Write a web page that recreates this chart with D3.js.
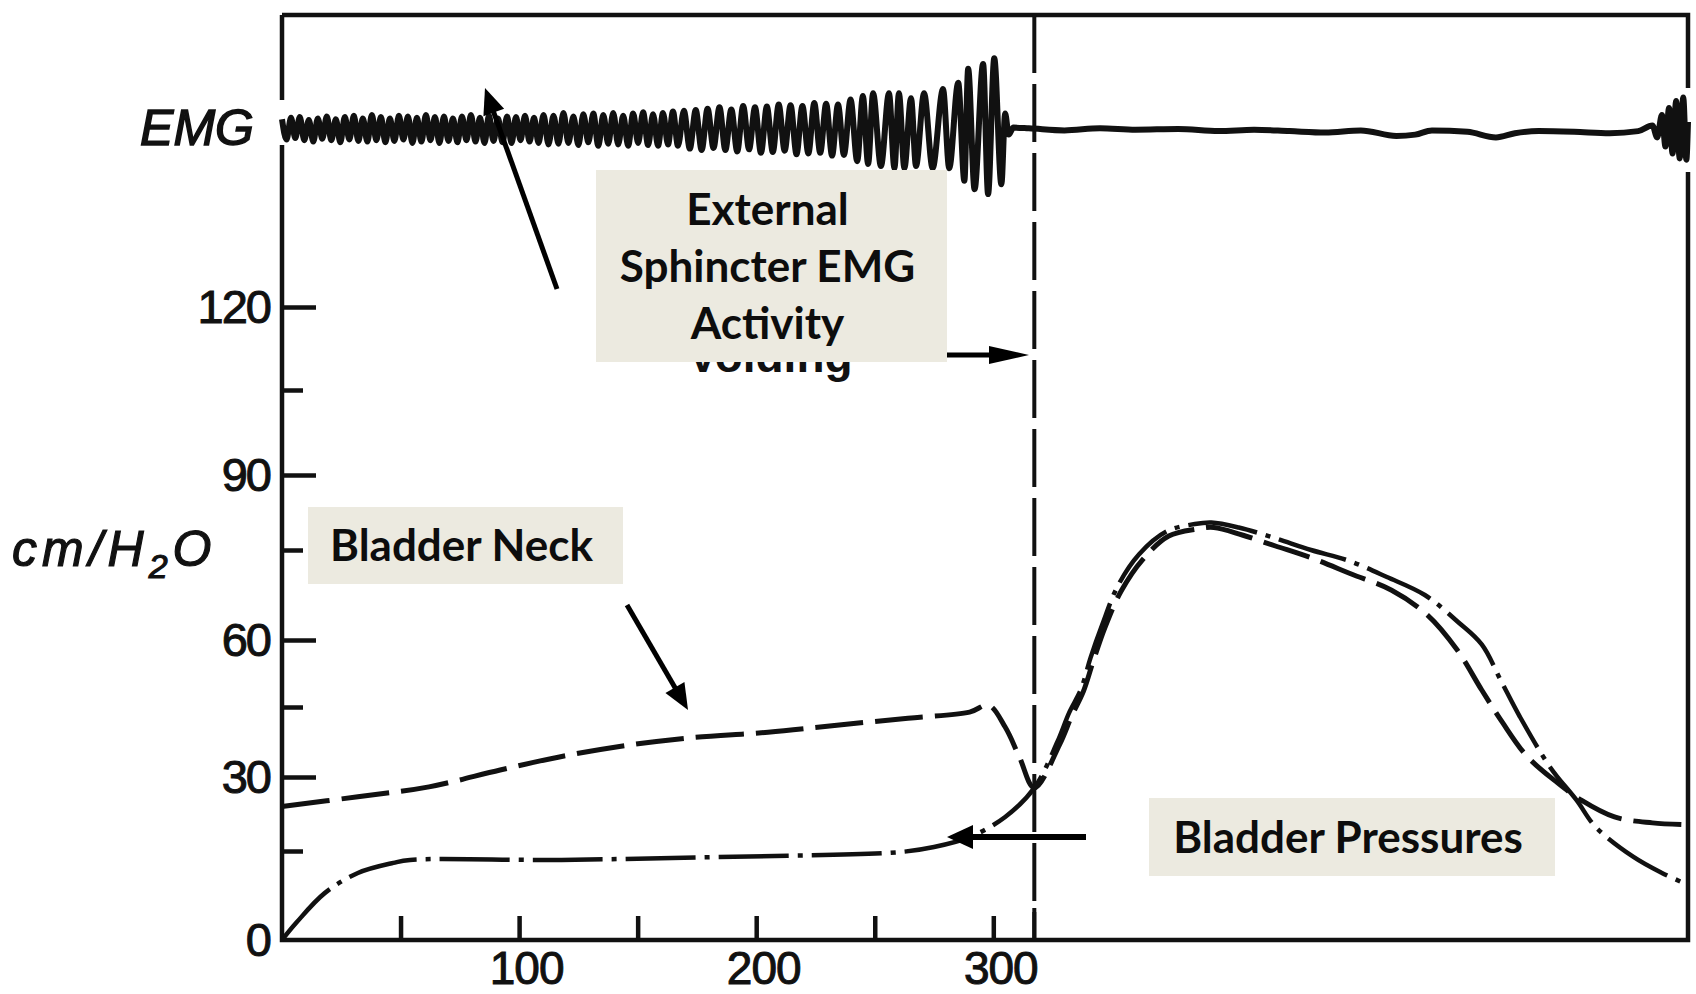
<!DOCTYPE html>
<html>
<head>
<meta charset="utf-8">
<script src="https://cdn.jsdelivr.net/npm/d3@7"></script>
<style>
body { margin: 0; background: #fff; }
svg { display: block; }
</style>
</head>
<body>
<svg id="chart" width="1696" height="994"></svg>
<script>
// Values: time in s, pressure in cm/H2O
var yTicks = [0, 30, 60, 90, 120];
var yMinor = [15, 45, 75, 105];
var xTicks = [50, 100, 150, 200, 250, 300];
var xLabels = [100, 200, 300];
var voidTime = 317.3;

// bladder neck pressure (dashed)
var bladderNeck = [[0,24],[32,26],[62,28],[92,31.5],[117,34.3],[143,36.6],[172,38.4],[205,39.6],[234,41.1],
  [264,42.6],[290,43.9],[298,45.4],[305,40.7],[311,34.3],[317.3,27.8],[328,37],[333,43],[338,48.5],[342,55],
  [347,62],[354,68.2],[363,73.4],[374,77.8],[386,79.2],[393,79.5],[405,78],[419,75.8],[434,73.7],[451,71],
  [468,68.3],[483,64.2],[495.6,57.8],[506,48.8],[514.6,41.8],[525,34.5],[538,28.8],[548,25.3],[562,21.9],
  [578,20.7],[593,20.3]];

// bladder pressure (dash-dot)
var bladderPressure = [[0,0],[6,2.9],[18,7.9],[32,11.3],[47,13],[54,13.5],[117,13.5],[184,14],[260,14.8],
  [275,15.8],[290,17.8],[305,21.9],[317.3,27.8],[327,37.5],[332,43.8],[337,49],[341,56],[346,62.6],[352.5,69],
  [361.5,74.3],[373,78.7],[385,80.2],[392,80.5],[403.5,79.5],[418,77.5],[434,75],[450,73.2],[466,70.5],
  [482,67.5],[496,63],[506,59],[514,51],[522,43],[535,32],[546,25.3],[554,19.9],[570,14],[582,11.3],[593,9.3]];

// external sphincter EMG, relative deflection at each turning point
var emg = [[0,.14],[1.9,-.15],[3.8,.16],[5.6,-.13],[7.5,.17],[9.4,-.16],[11.3,.13],[13.2,-.18],[15.1,.15],[17,-.14],
  [18.9,.18],[20.8,-.16],[22.7,.14],[24.6,-.19],[26.5,.17],[28.4,-.15],[30.3,.19],[32.2,-.17],[34.1,.15],[36,-.18],
  [37.9,.2],[39.8,-.16],[41.7,.17],[43.6,-.19],[45.5,.15],[47.4,-.17],[49.3,.19],[51.2,-.15],[53.1,.18],[55,-.2],
  [56.9,.16],[58.8,-.18],[60.7,.2],[62.6,-.16],[64.5,.17],[66.4,-.2],[68.3,.18],[70.2,-.17],[72.1,.15],[74,-.19],
  [75.9,.18],[77.8,-.16],[79.7,.2],[81.6,-.18],[83.5,.16],[85.4,-.2],[87.3,.19],[89.2,-.17],[91.1,.15],[93,-.19],
  [94.9,.18],[96.8,-.2],[98.7,.17],[100.6,-.16],[102.5,.19],[104.4,-.18],[106.3,.16],[108.2,-.2],
  [110.3,.2],[112.4,-.22],[114.5,.19],[116.6,-.21],[118.7,.23],[120.8,-.2],[122.9,.18],[125,-.23],[127.1,.21],
  [129.2,-.19],[131.3,.22],[133.4,-.24],[135.5,.2],[137.6,-.21],[139.7,.23],[141.8,-.22],[143.9,.19],[146,-.24],
  [148.1,.22],[150.2,-.2],[152.3,.24],[154.4,-.23],[156.5,.21],[158.6,-.24],[160.7,.23],[162.8,-.22],[164.9,.25],[167,-.24],
  [169.5,.26],[172,-.28],[174.5,.27],[177,-.3],[179.5,.29],[182,-.27],[184.5,.31],[187,-.3],[189.5,.28],[192,-.32],
  [194.5,.33],[197,-.29],[199.5,.31],[202,-.34],[204.5,.32],[207,-.33],[209.5,.35],[212,-.31],[214.5,.34],[217,-.36],
  [219.5,.33],[222,-.35],[224.5,.37],[227,-.34],[229.5,.36],[232,-.38],[234.5,.35],[237,-.37],
  [239.8,.42],[242.6,-.46],[245,.47],[247.2,-.5],[249.3,.51],[252.6,-.53],[256,.51],[258.3,-.56],[260.2,.51],
  [262.5,-.56],[265.3,.44],[267.4,-.53],[270.8,.51],[274.4,-.56],[278.8,.57],[281.4,-.56],[285.2,.66],[287.8,-.74],
  [289.4,.86],[292.1,-.86],[295.7,.93],[297.8,-.93],[300.4,1.01],[303.4,-.79],[305,.22],[306.5,-.08],[308.5,.02],
  [315,.01],[330,-.02],[345,.01],[360,-.01],[378,0],[395,-.03],[410,-.01],[425,-.03],[440,-.05],[455,-.02],
  [470,-.1],[478,-.08],[485,-.02],[500,-.04],[512,-.12],[520,-.06],[530,-.03],[545,-.04],[560,-.06],[572,-.03],
  [578,.05],[580,-.12],[582,.2],[583.5,-.25],[585,.3],[586.5,-.35],[588,.4],[589.5,-.42],[591,.45],[592.3,-.44],[593,.1]];

// annotation layout (pixels)
var notes = [
  {lines: ["External", "Sphincter EMG", "Activity"], x: 596, y: 170, w: 351, h: 192},
  {lines: ["Bladder Neck"], x: 308, y: 507, w: 315, h: 77},
  {lines: ["Bladder Pressures"], x: 1149, y: 798, w: 406, h: 78}
];
var arrows = [
  {x1: 557, y1: 289, x2: 485, y2: 88, head: 26, half: 11, w: 5},
  {x1: 627, y1: 605, x2: 688, y2: 710, head: 26, half: 11, w: 5},
  {x1: 1086, y1: 837, x2: 947, y2: 837, head: 26, half: 12, w: 6},
  {x1: 947, y1: 355, x2: 1029, y2: 355, head: 40, half: 9, w: 5}
];

var ink = "#111";
var letterFont = "'Liberation Sans', Arial, sans-serif";
var svg = d3.select("#chart");
var frameTop = 15;

var x = d3.scaleLinear().domain([0, 593]).range([282, 1688]);
// the printed axis is not evenly spaced, so follow its tick marks
var y = d3.scaleLinear().domain([0, 15, 30, 45, 60, 75, 90, 105, 120])
  .range([940, 851, 777, 707, 640, 550, 475, 390, 307]);
var emgY = d3.scaleLinear().domain([-1, 1]).range([199, 59]);

svg.append("rect").attr("width", 1696).attr("height", 994).attr("fill", "#fff");

// frame (broken where the EMG trace crosses it)
var x0 = x(0), x1 = x(593), y0 = y(0);
svg.append("path")
  .attr("d", "M" + x0 + "," + frameTop + "H" + x1 + "V88M" + x1 + ",172V" + y0 + "H" + x0 +
    "V145M" + x0 + ",100V" + frameTop)
  .attr("fill", "none").attr("stroke", ink).attr("stroke-width", 4.5);

function inkTicks(g) {
  g.select(".domain").remove();
  g.selectAll("line").attr("stroke", ink).attr("stroke-width", 4.5);
}
function inkLabels(g) {
  g.select(".domain").remove();
  g.selectAll("text").attr("fill", ink).attr("stroke", ink).attr("stroke-width", 1)
    .attr("font-family", letterFont).attr("font-size", 47);
}

// y ticks
svg.append("g").attr("transform", "translate(" + x0 + ",0)")
  .call(d3.axisRight(y).tickValues(yTicks.slice(1)).tickSize(34).tickFormat("")).call(inkTicks);
svg.append("g").attr("transform", "translate(" + x0 + ",0)")
  .call(d3.axisRight(y).tickValues(yMinor).tickSize(21).tickFormat("")).call(inkTicks);
svg.append("g").attr("transform", "translate(" + x0 + ",0)")
  .call(d3.axisLeft(y).tickValues(yTicks).tickSize(0).tickPadding(12)).call(inkLabels)
  .selectAll("text").attr("letter-spacing", -2);

// x ticks
svg.append("g").attr("transform", "translate(0," + y0 + ")")
  .call(d3.axisTop(x).tickValues(xTicks).tickSize(24).tickFormat("")).call(inkTicks);
svg.append("g").attr("transform", "translate(0," + y0 + ")")
  .call(d3.axisBottom(x).tickValues(xLabels).tickSize(0).tickPadding(11)).call(inkLabels)
  .selectAll("text").attr("dx", 7).attr("font-size", 46).attr("letter-spacing", -1);

// start of voiding
svg.append("line").attr("x1", x(voidTime)).attr("x2", x(voidTime)).attr("y1", frameTop).attr("y2", y0)
  .attr("stroke", ink).attr("stroke-width", 4).attr("stroke-dasharray", "58,11");
svg.append("line").attr("x1", x(voidTime)).attr("x2", x(voidTime)).attr("y1", y0 - 32).attr("y2", y0)
  .attr("stroke", ink).attr("stroke-width", 4);

// pressure curves
var line = d3.line().x(function(d) { return x(d[0]); }).y(function(d) { return y(d[1]); })
  .curve(d3.curveCatmullRom.alpha(0.5));
svg.append("path").datum(bladderNeck).attr("d", line).attr("fill", "none")
  .attr("stroke", ink).attr("stroke-width", 5).attr("stroke-dasharray", "48,12");
svg.append("path").datum(bladderPressure).attr("d", line).attr("fill", "none")
  .attr("stroke", ink).attr("stroke-width", 4.5).attr("stroke-dasharray", "70,9,5,9");

// EMG trace
var emgLine = d3.line().x(function(d) { return x(d[0]); }).y(function(d) { return emgY(d[1]); })
  .curve(d3.curveMonotoneX);
svg.append("path").datum(emg).attr("d", emgLine).attr("fill", "none")
  .attr("stroke", ink).attr("stroke-width", 6).attr("stroke-linejoin", "round");

// axis captions
svg.append("text").attr("x", 254).attr("y", 127).attr("dy", "0.35em").attr("text-anchor", "end")
  .attr("font-family", letterFont).attr("font-style", "italic").attr("stroke", ink).attr("stroke-width", 1.5)
  .attr("font-size", 50).attr("fill", ink).text("EMG");
var unit = svg.append("text").attr("x", 12).attr("y", 566)
  .attr("font-family", letterFont).attr("font-style", "italic").attr("stroke", ink).attr("stroke-width", 1.2)
  .attr("font-size", 50).attr("letter-spacing", 5).attr("fill", ink);
unit.append("tspan").text("cm/H");
unit.append("tspan").attr("font-size", 34).attr("dy", 12).text("2");
unit.append("tspan").attr("dy", -12).text("O");

// "Voiding" label, mostly hidden by the EMG note box
svg.append("text").attr("x", 770).attr("y", 372).attr("text-anchor", "middle")
  .attr("font-family", letterFont).attr("font-weight", "bold")
  .attr("font-size", 46).attr("fill", ink).text("Voiding");

// arrows
arrows.forEach(function(a) {
  var dx = a.x2 - a.x1, dy = a.y2 - a.y1, len = Math.sqrt(dx * dx + dy * dy);
  var ux = dx / len, uy = dy / len, nx = -uy, ny = ux;
  var bx = a.x2 - ux * a.head, by = a.y2 - uy * a.head;
  svg.append("line").attr("x1", a.x1).attr("y1", a.y1)
    .attr("x2", a.x2 - ux * a.head * 0.7).attr("y2", a.y2 - uy * a.head * 0.7)
    .attr("stroke", "#000").attr("stroke-width", a.w);
  svg.append("path")
    .attr("d", "M" + a.x2 + "," + a.y2 + "L" + (bx + nx * a.half) + "," + (by + ny * a.half) +
      "L" + (bx - nx * a.half) + "," + (by - ny * a.half) + "Z")
    .attr("fill", "#000");
});

// note boxes
var note = svg.selectAll(".note").data(notes).enter().append("g").attr("class", "note");
note.append("rect").attr("x", function(d) { return d.x; }).attr("y", function(d) { return d.y; })
  .attr("width", function(d) { return d.w; }).attr("height", function(d) { return d.h; })
  .attr("fill", "#ECEAE0");
note.each(function(d) {
  var g = d3.select(this), lh = 57;
  d.lines.forEach(function(s, i) {
    g.append("text").attr("x", d.x + d.w / 2 - 4)
      .attr("y", d.y + d.h / 2 + (i - (d.lines.length - 1) / 2) * lh)
      .attr("dy", "0.36em").attr("text-anchor", "middle")
      .attr("font-family", "Lato, 'Open Sans', sans-serif").attr("font-weight", "bold")
      .attr("font-size", 44).attr("fill", "#0d0d0d").text(s);
  });
});
</script>
</body>
</html>
